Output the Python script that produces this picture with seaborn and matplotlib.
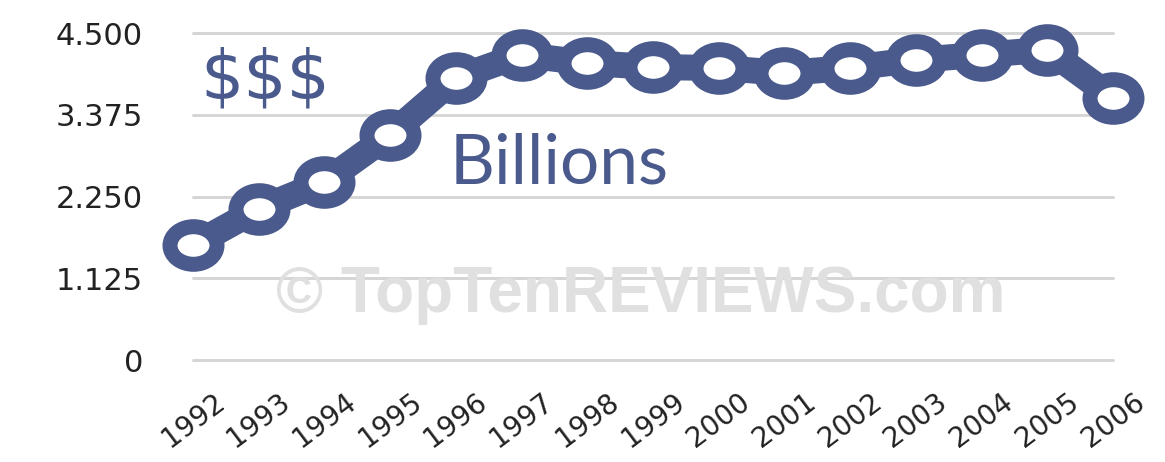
import numpy as np
import pandas as pd
import matplotlib
matplotlib.use("Agg")
import matplotlib.pyplot as plt
from matplotlib.path import Path
import seaborn as sns

# Annual spending, billions of dollars
years = [1992, 1993, 1994, 1995, 1996, 1997, 1998, 1999,
         2000, 2001, 2002, 2003, 2004, 2005, 2006]
values = [1.58, 2.08, 2.45, 3.10, 3.88, 4.20, 4.09, 4.03,
          4.02, 3.95, 4.02, 4.13, 4.20, 4.27, 3.61]
y_ticks = [0, 1.125, 2.25, 3.375, 4.5]
y_tick_labels = ["0", "1.125", "2.250", "3.375", "4.500"]

BLUE = "#4a5a8c"
PX = 72 / 100  # points per pixel at dpi 100

sns.set_theme(style="white")
plt.rcParams["font.family"] = ["DejaVu Sans"]

fig = plt.figure(figsize=(11.65, 4.62), dpi=100)
fig.patch.set_facecolor("white")
ax = fig.add_axes([193 / 1165, 1 - 360 / 462, (1113 - 193) / 1165, (360 - 33) / 462])
ax.set_facecolor("white")

# slightly wide ring marker, like chain links
circ = Path.unit_circle()
ring = Path(circ.vertices * np.array([1.25, 1.0]), circ.codes)

df = pd.DataFrame({"year": years, "value": values})
sns.lineplot(data=df, x="year", y="value", ax=ax, color=BLUE,
             linewidth=26 * PX, marker=ring, markersize=47 * PX,
             markeredgewidth=15 * PX, markerfacecolor="white",
             markeredgecolor=BLUE, clip_on=False, zorder=5)

ax.set_xlim(years[0], years[-1])
ax.set_ylim(0, 4.5)
ax.set_xticks(years)
ax.set_xticklabels([str(y) for y in years], rotation=37, ha="center",
                   va="top", fontsize=20, color="#222222")
ax.set_yticks(y_ticks)
ax.set_yticklabels(y_tick_labels, fontsize=22, color="#222222")
ax.tick_params(axis="x", length=0, pad=20)
ax.tick_params(axis="y", length=0, pad=36)
ax.set_xlabel("")
ax.set_ylabel("")

ax.yaxis.grid(True, color="#d6d6d6", linewidth=3 * PX, zorder=1)
ax.xaxis.grid(False)
ax.set_axisbelow(True)
for gl in ax.get_ygridlines():
    gl.set_clip_on(False)
for s in ax.spines.values():
    s.set_visible(False)

# watermark behind the grid
fig.text(641 / 1165, 1 - 312 / 462, "\u00a9 TopTenREVIEWS.com",
         fontsize=46, fontweight="bold", family=["Liberation Sans", "DejaVu Sans"],
         color="#e0e0e0", ha="center", va="baseline", zorder=0)

fig.text(200 / 1165, 1 - 99 / 462, "$$$", fontsize=49, color=BLUE,
         ha="left", va="baseline")
fig.text(450 / 1165, 1 - 183 / 462, "Billions", fontsize=50, color=BLUE,
         family=["Lato", "DejaVu Sans"], ha="left", va="baseline")

fig.savefig("out.png", dpi=100, facecolor="white")
